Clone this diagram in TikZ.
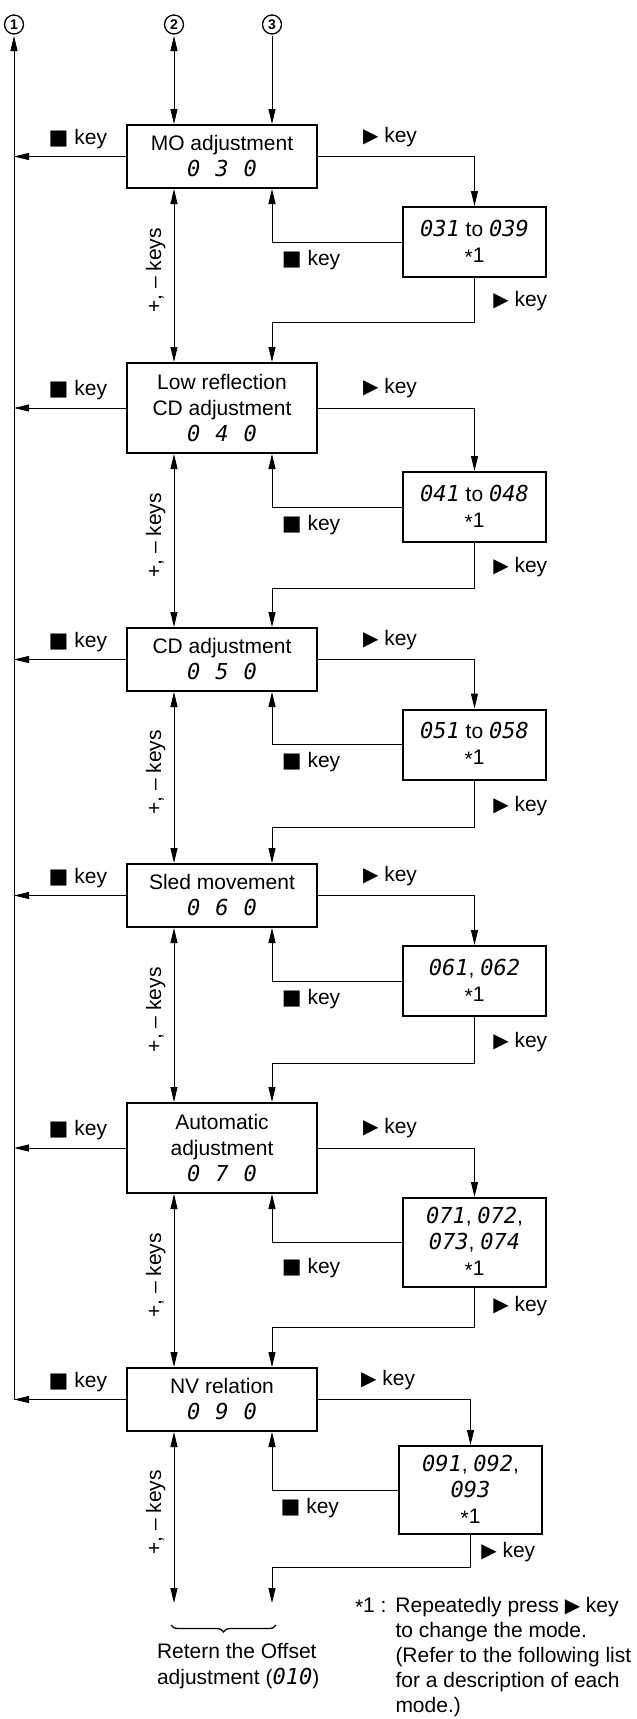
\documentclass[tikz,border=0pt]{standalone}
\usepackage{fontspec}
\setmainfont{Liberation Sans}
\newfontfamily\symfont{DejaVu Sans}
\newfontfamily\lcdfont{DejaVu Sans Mono}
\usetikzlibrary{positioning,calc,arrows.meta,decorations.pathreplacing}

\newcommand{\stopsym}{{\symfont\fontsize{21}{21}\selectfont ■}}
\newcommand{\playsym}{{\symfont\fontsize{20}{20}\selectfont ▶}}
\newcommand{\lcd}[1]{{\lcdfont\itshape\fontsize{22}{26}\selectfont #1}}
\newcommand{\noteone}{\raisebox{-2pt}{*}1}

\begin{document}
\begin{tikzpicture}[x=1pt, y=-1pt, >={Triangle[length=15pt,width=7pt]}, line width=1pt, every node/.style={font=\fontsize{21}{26}\selectfont}, mainbox/.style={draw, line width=2pt, minimum width=190pt, minimum height=63pt, align=center, inner sep=2pt}, subbox/.style={draw, line width=2pt, minimum width=143pt, minimum height=70pt, align=center, inner sep=2pt}, numcircle/.style={circle, draw, line width=1.3pt, minimum size=19pt, inner sep=0pt, outer sep=2pt, font=\bfseries\fontsize{14}{14}\selectfont}, pmkeys/.style={rotate=90, anchor=south, inner sep=8pt}]

\useasboundingbox (0,0) rectangle (637,1719);

\node[numcircle] (c1) at (14,24.5) {1};
\node[numcircle] (c2) at (174,24.5) {2};
\node[numcircle] (c3) at (272,24.5) {3};

\node[mainbox] (m1) at (222,156.5) {MO adjustment\\\lcd{0\hspace{15pt}3\hspace{15pt}0}};
\node[subbox] (s1) at (474.5,242) {\lcd{031} to \lcd{039}\\\noteone};
\node[mainbox, minimum height=90pt] (m2) at (222,408) {Low reflection\\CD adjustment\\\lcd{0\hspace{15pt}4\hspace{15pt}0}};
\node[subbox] (s2) at (474.5,507) {\lcd{041} to \lcd{048}\\\noteone};
\node[mainbox] (m3) at (222,659.5) {CD adjustment\\\lcd{0\hspace{15pt}5\hspace{15pt}0}};
\node[subbox] (s3) at (474.5,744.5) {\lcd{051} to \lcd{058}\\\noteone};
\node[mainbox] (m4) at (222,895.5) {Sled movement\\\lcd{0\hspace{15pt}6\hspace{15pt}0}};
\node[subbox] (s4) at (474.5,981) {\lcd{061}, \lcd{062}\\\noteone};
\node[mainbox, minimum height=90pt] (m5) at (222,1148) {Automatic\\adjustment\\\lcd{0\hspace{15pt}7\hspace{15pt}0}};
\node[subbox, minimum height=89pt] (s5) at (474.5,1242.5) {\lcd{071}, \lcd{072},\\\lcd{073}, \lcd{074}\\\noteone};
\node[mainbox] (m6) at (222,1399.5) {NV relation\\\lcd{0\hspace{15pt}9\hspace{15pt}0}};
\node[subbox, minimum height=88pt] (s6) at (470.5,1490) {\lcd{091}, \lcd{092},\\\lcd{093}\\\noteone};

\coordinate (endA) at (174,1603);
\coordinate (endB) at (272,1603);

%entries at the top
\draw[->] (m6.west -| c1) -- (c1.south);
\draw[<->] (c2.south) -- (m1.north -| c2);
\draw[->] (c3.south) -- (m1.north -| c3);

%MO adjustment
\draw[->] (m1.west) -- node[pos=.43, above=4pt] {\stopsym\ key} (m1.west -| c1);
\draw[->] (m1.east) -| node[pos=.23, above=6pt] {\playsym\ key} (s1.north);
\draw[->] (s1.west) -| node[pos=.35, below=4pt] {\stopsym\ key} (m1.south -| c3);
\draw[->] (s1.south) |- node[pos=.5, right=15pt, yshift=21pt] {\playsym\ key} ($(m2.north -| c3)+(0,-40)$) -- (m2.north -| c3);
\draw[<->] (m1.south -| c2) -- node[pos=.47, pmkeys] {+, – keys} (m2.north -| c2);

%low reflection CD
\draw[->] (m2.west) -- node[pos=.43, above=4pt] {\stopsym\ key} (m2.west -| c1);
\draw[->] (m2.east) -| node[pos=.23, above=6pt] {\playsym\ key} (s2.north);
\draw[->] (s2.west) -| node[pos=.35, below=4pt] {\stopsym\ key} (m2.south -| c3);
\draw[->] (s2.south) |- node[pos=.5, right=15pt, yshift=21pt] {\playsym\ key} ($(m3.north -| c3)+(0,-39)$) -- (m3.north -| c3);
\draw[<->] (m2.south -| c2) -- node[pos=.47, pmkeys] {+, – keys} (m3.north -| c2);

%CD
\draw[->] (m3.west) -- node[pos=.43, above=4pt] {\stopsym\ key} (m3.west -| c1);
\draw[->] (m3.east) -| node[pos=.23, above=6pt] {\playsym\ key} (s3.north);
\draw[->] (s3.west) -| node[pos=.35, below=4pt] {\stopsym\ key} (m3.south -| c3);
\draw[->] (s3.south) |- node[pos=.5, right=15pt, yshift=21pt] {\playsym\ key} ($(m4.north -| c3)+(0,-36)$) -- (m4.north -| c3);
\draw[<->] (m3.south -| c2) -- node[pos=.47, pmkeys] {+, – keys} (m4.north -| c2);

%sled
\draw[->] (m4.west) -- node[pos=.43, above=4pt] {\stopsym\ key} (m4.west -| c1);
\draw[->] (m4.east) -| node[pos=.23, above=6pt] {\playsym\ key} (s4.north);
\draw[->] (s4.west) -| node[pos=.35, below=4pt] {\stopsym\ key} (m4.south -| c3);
\draw[->] (s4.south) |- node[pos=.5, right=15pt, yshift=21pt] {\playsym\ key} ($(m5.north -| c3)+(0,-39)$) -- (m5.north -| c3);
\draw[<->] (m4.south -| c2) -- node[pos=.47, pmkeys] {+, – keys} (m5.north -| c2);

%automatic
\draw[->] (m5.west) -- node[pos=.43, above=4pt] {\stopsym\ key} (m5.west -| c1);
\draw[->] (m5.east) -| node[pos=.23, above=6pt] {\playsym\ key} (s5.north);
\draw[->] (s5.west) -| node[pos=.35, below=12pt] {\stopsym\ key} (m5.south -| c3);
\draw[->] (s5.south) |- node[pos=.5, right=15pt, yshift=21pt] {\playsym\ key} ($(m6.north -| c3)+(0,-40)$) -- (m6.north -| c3);
\draw[<->] (m5.south -| c2) -- node[pos=.47, pmkeys] {+, – keys} (m6.north -| c2);

%NV relation
\draw[->] (m6.west) -- node[pos=.43, above=4pt] {\stopsym\ key} (m6.west -| c1);
\draw[->] (m6.east) -| node[pos=.23, above=6pt] {\playsym\ key} (s6.north);
\draw[->] (s6.west) -| node[pos=.35, below=4pt] {\stopsym\ key} (m6.south -| c3);
\draw[->] (s6.south) |- node[pos=.5, right=7pt, yshift=15pt] {\playsym\ key} ($(endB)+(0,-36)$) -- (endB);
\draw[<->] (m6.south -| c2) -- node[pos=.47, pmkeys] {+, – keys} (endA);

%back to offset
\draw[line width=1.3pt, decorate, decoration={brace, mirror, amplitude=7pt}] ($(endA)+(-3,22)$) -- ($(endB)+(4,22)$);
\node[anchor=north west, align=left, inner sep=0pt] (ret) at (156.5,1643) {Retern the Offset\\adjustment (\lcd{010})};

\node[anchor=north west, align=left, inner sep=0pt, font=\fontsize{21}{25}\selectfont] (note) at (354.5,1597) {\makebox[40.5pt][l]{\raisebox{-2pt}{*}1 :}Repeatedly press \playsym\ key\\\hspace*{40.5pt}to change the mode.\\\hspace*{40.5pt}(Refer to the following list\\\hspace*{40.5pt}for a description of each\\\hspace*{40.5pt}mode.)};
\end{tikzpicture}
\end{document}
